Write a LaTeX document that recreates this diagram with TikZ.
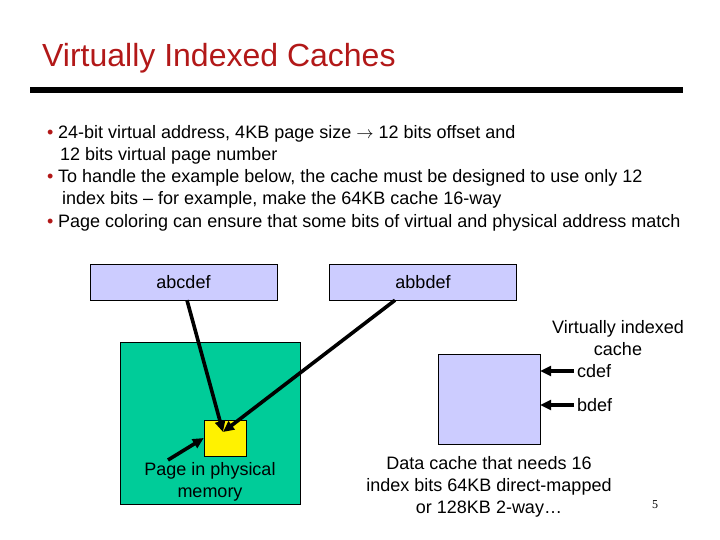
\documentclass[tikz,border=0pt]{standalone}
\usepackage{fontspec}
\setmainfont{Liberation Sans}
\newfontfamily\pagefont{Liberation Serif}
\usetikzlibrary{arrows.meta}
\definecolor{titlered}{RGB}{178,24,24}
\definecolor{lavender}{RGB}{204,204,255}
\definecolor{memgreen}{RGB}{0,204,153}
\begin{document}
\begin{tikzpicture}[x=1pt,y=-1pt,>={Triangle[length=11pt,width=10pt]}]
  \tikzset{bodytext/.style = {font=\fontsize{18}{22}\selectfont, inner sep=0pt},
           bline/.style    = {bodytext, anchor=base west},
           bullet/.style   = {bline, text=titlered},
           addrbox/.style  = {draw, thin, fill=lavender, bodytext,
                              minimum width=187pt, minimum height=36pt},
           ptr/.style      = {->, line width=3.6pt}}
  \useasboundingbox (0,0) rectangle (720,540);
  % title and rule
  \node[anchor=base west, inner sep=0pt, text=titlered,
        font=\fontsize{32}{36}\selectfont] (title) at (42,67) {Virtually Indexed Caches};
  \coordinate (ruleL) at (30,90);
  \coordinate (ruleR) at (683,90);
  \draw[line width=6pt] (ruleL) -- (ruleR);
  % bullets
  \node[bullet] (b1) at (47,139) {\textbullet};
  \node[bline] (l1) at (58,139) {24-bit virtual address, 4KB page size $\rightarrow$ 12 bits offset and};
  \node[bline] (l2) at (60,161) {12 bits virtual page number};
  \node[bullet] (b2) at (47,183) {\textbullet};
  \node[bline] (l3) at (58,183) {To handle the example below, the cache must be designed to use only 12};
  \node[bline] (l4) at (62,205) {index bits -- for example, make the 64KB cache 16-way};
  \node[bullet] (b3) at (47,227) {\textbullet};
  \node[bline] (l5) at (58,227) {Page coloring can ensure that some bits of virtual and physical address match};
  % virtual addresses
  \node[addrbox] (abc) at (183.5,282) {abcdef};
  \node[addrbox] (abb) at (423,282) {abbdef};
  % physical memory
  \node[draw, thin, fill=memgreen, minimum width=180pt, minimum height=162pt] (mem) at (210,423) {};
  \node[draw, thin, fill=yellow, minimum width=42pt, minimum height=36pt] (page) at (225,438) {};
  \node[bodytext, align=center] (memlbl) at (210,482) {Page in physical\\memory};
  \coordinate (hit) at (223,432);
  \coordinate (tail) at (168,460);
  \draw[ptr] ([xshift=3.5pt]abc.south) -- (hit);
  \draw[ptr] ([xshift=-28pt]abb.south) -- (hit);
  \draw[ptr] (tail) -- (page.west);
  % cache
  \node[draw, thin, fill=lavender, minimum width=102pt, minimum height=90pt] (cache) at (489,399) {};
  \node[bodytext, align=center] (cachelbl) at (618,338) {Virtually indexed\\cache};
  \node[bodytext, anchor=west] (cdef) at (577,371) {cdef};
  \node[bodytext, anchor=west] (bdef) at (577,405) {bdef};
  \draw[ptr] ([xshift=-3pt]cdef.west) -- (cdef.west -| cache.east);
  \draw[ptr] ([xshift=-3pt]bdef.west) -- (bdef.west -| cache.east);
  \node[bodytext, align=center] (cachenote) at (489,487) {Data cache that needs 16\\index bits 64KB direct-mapped\\or 128KB 2-way\dots};
  \node[inner sep=0pt, font=\pagefont\fontsize{12}{14}\selectfont] (pnum) at (655,505) {5};
\end{tikzpicture}
\end{document}
